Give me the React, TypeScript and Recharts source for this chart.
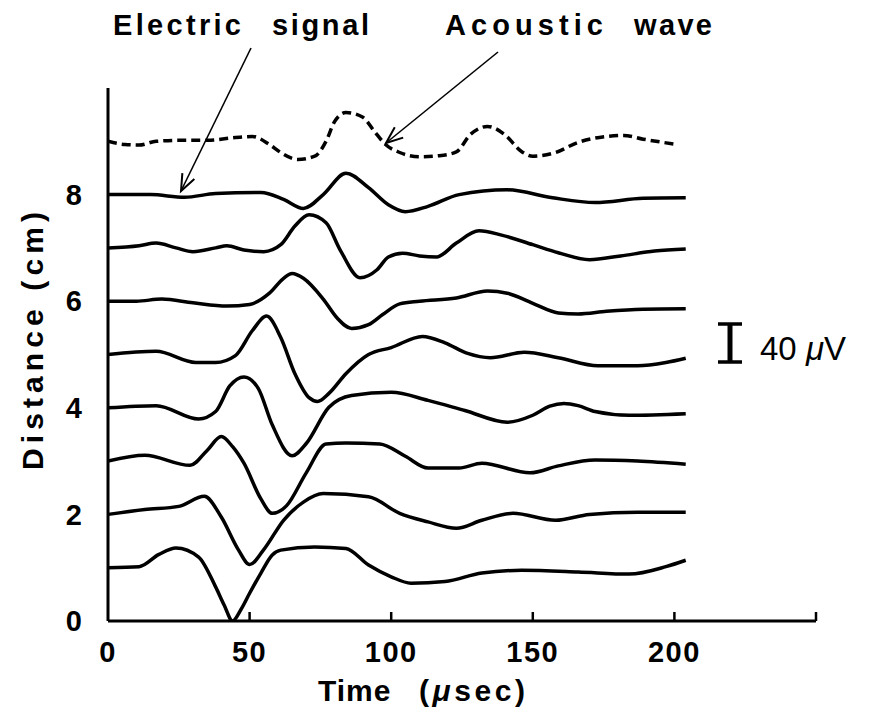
import React from 'react';
import { LineChart, Line, XAxis, YAxis } from 'recharts';

// ---------- axis ticks ----------
const xTicks = [0, 50, 100, 150, 200, 250];
const xTickLabels = ['0', '50', '100', '150', '200', ''];
const yTicks = [0, 2, 4, 6, 8];

// ---------- traces: time (µs) and deflection (cm of the distance axis) ----------
const trace1Time = [0, 11, 18, 24, 32, 38, 41, 44, 47, 50, 54, 58, 61, 73, 84, 92, 100, 107, 119, 132, 146, 166, 184, 197, 204];
const trace1Amp = [0, 0.02, 0.25, 0.37, 0.2, -0.36, -0.7, -1.0, -0.78, -0.48, -0.1, 0.24, 0.33, 0.39, 0.36, 0.05, -0.17, -0.29, -0.26, -0.1, -0.05, -0.08, -0.12, 0.02, 0.14];

const trace2Time = [0, 13, 25, 34, 40, 46, 50, 55, 62, 69, 76, 92, 103, 113, 123, 132, 143, 158, 170, 187, 204];
const trace2Amp = [0, 0.09, 0.15, 0.34, -0.05, -0.66, -0.94, -0.66, -0.11, 0.23, 0.39, 0.33, 0.02, -0.14, -0.26, -0.11, 0.02, -0.11, 0, 0.04, 0.04];

const trace3Time = [0, 13, 29, 35, 40, 44, 48, 54, 58, 63, 70, 77, 84, 96, 105, 113, 124, 132, 149, 159, 172, 187, 204];
const trace3Amp = [0, 0.11, -0.08, 0.2, 0.46, 0.27, -0.04, -0.71, -0.98, -0.84, -0.22, 0.32, 0.34, 0.32, 0.09, -0.13, -0.13, -0.04, -0.22, -0.09, 0.02, 0, -0.06];

const trace4Time = [0, 17, 32, 38, 43, 48, 53, 58, 65, 70, 78, 86, 100, 113, 126, 141, 150, 156, 161, 166, 172, 184, 204];
const trace4Amp = [0, 0.04, -0.21, -0.07, 0.41, 0.58, 0.37, -0.32, -0.9, -0.67, 0.01, 0.23, 0.29, 0.14, -0.05, -0.27, -0.14, 0.03, 0.08, 0.04, -0.07, -0.14, -0.11];

const trace5Time = [0, 17, 31, 38, 45, 51, 56, 61, 66, 71, 74, 78, 84, 92, 100, 111, 119, 127, 135, 147, 159, 173, 187, 197, 204];
const trace5Amp = [0, 0.06, -0.15, -0.15, -0.02, 0.45, 0.72, 0.32, -0.36, -0.81, -0.88, -0.73, -0.36, 0, 0.13, 0.34, 0.22, 0.02, -0.06, 0.04, -0.06, -0.21, -0.21, -0.15, -0.07];

const trace6Time = [0, 10, 19, 30, 42, 50, 57, 62, 65, 69, 76, 81, 86, 92, 97, 103, 110, 123, 134, 141, 150, 159, 166, 176, 189, 204];
const trace6Amp = [0, 0, 0.04, -0.03, -0.09, -0.06, 0.15, 0.43, 0.52, 0.43, 0.04, -0.32, -0.51, -0.44, -0.25, -0.05, 0, 0.06, 0.19, 0.15, -0.04, -0.22, -0.24, -0.19, -0.15, -0.14];

const trace7Time = [0, 11, 17, 24, 30, 38, 42, 48, 55, 61, 66, 71, 77, 82, 89, 95, 99, 104, 110, 116, 123, 131, 139, 150, 159, 170, 181, 193, 204];
const trace7Amp = [0, 0.04, 0.09, 0, -0.07, 0, 0.04, -0.04, -0.07, 0.06, 0.41, 0.62, 0.47, -0.04, -0.56, -0.41, -0.17, -0.1, -0.15, -0.17, 0.09, 0.32, 0.24, 0.06, -0.09, -0.22, -0.15, -0.06, -0.02];

const trace8Time = [0, 15, 27, 38, 54, 62, 69, 76, 84, 92, 99, 105, 113, 124, 141, 157, 172, 189, 204];
const trace8Amp = [0, 0, -0.05, 0.02, 0.04, -0.09, -0.26, 0, 0.4, 0.13, -0.19, -0.32, -0.22, 0, 0.09, -0.06, -0.15, -0.07, -0.06];

// acoustic wave (dashed), plotted at 9 cm
const acousticTime = [0, 6, 11, 17, 26, 35, 45, 51, 57, 61, 67, 73, 77, 80, 84, 90, 94, 98, 103, 110, 117, 123, 128, 134, 140, 146, 150, 158, 166, 176, 182, 189, 201];
const acousticAmp = [0, -0.06, -0.07, 0, 0.02, 0.02, 0.07, 0.09, -0.06, -0.21, -0.34, -0.28, 0, 0.37, 0.54, 0.45, 0.19, -0.06, -0.21, -0.29, -0.27, -0.2, 0.13, 0.28, 0.13, -0.19, -0.28, -0.21, -0.02, 0.09, 0.11, 0.04, -0.06];

const traces = [
  { id: 'd1', distance: 1, time: trace1Time, amp: trace1Amp, dashed: false },
  { id: 'd2', distance: 2, time: trace2Time, amp: trace2Amp, dashed: false },
  { id: 'd3', distance: 3, time: trace3Time, amp: trace3Amp, dashed: false },
  { id: 'd4', distance: 4, time: trace4Time, amp: trace4Amp, dashed: false },
  { id: 'd5', distance: 5, time: trace5Time, amp: trace5Amp, dashed: false },
  { id: 'd6', distance: 6, time: trace6Time, amp: trace6Amp, dashed: false },
  { id: 'd7', distance: 7, time: trace7Time, amp: trace7Amp, dashed: false },
  { id: 'd8', distance: 8, time: trace8Time, amp: trace8Amp, dashed: false },
  { id: 'acoustic', distance: 9, time: acousticTime, amp: acousticAmp, dashed: true },
];

const series = traces.map((tr) => ({
  ...tr,
  data: tr.time.map((t, i) => ({ t, v: tr.distance + tr.amp[i] })),
}));

const FONT = '"Liberation Sans", Arial, sans-serif';
const X_TICK_MARGIN = 14;

const XTick = (props: any) => {
  const { x, y, payload } = props;
  const axisY = y - X_TICK_MARGIN;
  const idx = xTicks.indexOf(payload.value);
  const label = idx >= 0 ? xTickLabels[idx] : '';
  return (
    <g>
      {payload.value !== 0 && (
        <line x1={x} x2={x} y1={axisY} y2={axisY - 9} stroke="#000" strokeWidth={2.5} />
      )}
      {label && (
        <text
          x={x}
          y={axisY + 41}
          textAnchor="middle"
          fill="#000"
          fontFamily={FONT}
          fontWeight="bold"
          fontSize={29}
          letterSpacing={1.5}
        >
          {label}
        </text>
      )}
    </g>
  );
};

const TimeLabel = () => (
  <g>
    <text x={318} y={701} fill="#000" fontFamily={FONT} fontWeight="bold" fontSize={30} letterSpacing={1}>
      Time
    </text>
    <text
      x={419}
      y={701}
      fill="#000"
      fontFamily={FONT}
      fontWeight="bold"
      fontSize={30}
      textLength={106}
      lengthAdjust="spacing"
    >
      (<tspan fontStyle="italic">μ</tspan>sec)
    </text>
  </g>
);

const DistanceLabel = () => (
  <text
    x={43}
    y={341}
    transform="rotate(-90 43 341)"
    textAnchor="middle"
    fill="#000"
    fontFamily={FONT}
    fontWeight="bold"
    fontSize={30}
    textLength={258}
    lengthAdjust="spacing"
  >
    Distance  (cm)
  </text>
);

function arrowHead(tipX: number, tipY: number, fromX: number, fromY: number, len = 18, spread = 0.38) {
  const ang = Math.atan2(fromY - tipY, fromX - tipX);
  const a1 = ang + spread;
  const a2 = ang - spread;
  return `M${tipX + len * Math.cos(a1)},${tipY + len * Math.sin(a1)} L${tipX},${tipY} L${tipX + len * Math.cos(a2)},${tipY + len * Math.sin(a2)}`;
}

const Annotations = () => {
  const e = { x1: 251, y1: 48, x2: 181, y2: 191 };
  const a = { x1: 498, y1: 52, x2: 386, y2: 143 };
  const wordStyle = { fill: '#000', fontFamily: FONT, fontSize: 29, fontWeight: 'bold' } as const;
  return (
    <svg
      width={870}
      height={719}
      style={{ position: 'absolute', left: 0, top: 0, pointerEvents: 'none' }}
    >
      <text x={113} y={35} {...wordStyle} textLength={128} lengthAdjust="spacing">Electric</text>
      <text x={272} y={35} {...wordStyle} textLength={97} lengthAdjust="spacing">signal</text>
      <text x={445} y={35} {...wordStyle} textLength={158} lengthAdjust="spacing">Acoustic</text>
      <text x={634} y={35} {...wordStyle} textLength={78} lengthAdjust="spacing">wave</text>

      <line x1={e.x1} y1={e.y1} x2={e.x2} y2={e.y2} stroke="#000" strokeWidth={1.6} />
      <path d={arrowHead(e.x2, e.y2, e.x1, e.y1)} fill="none" stroke="#000" strokeWidth={2} />
      <line x1={a.x1} y1={a.y1} x2={a.x2} y2={a.y2} stroke="#000" strokeWidth={1.6} />
      <path d={arrowHead(a.x2, a.y2, a.x1, a.y1)} fill="none" stroke="#000" strokeWidth={2} />

      {/* 40 µV scale bar */}
      <line x1={730} x2={730} y1={323} y2={363} stroke="#000" strokeWidth={5} />
      <line x1={718} x2={742} y1={324} y2={324} stroke="#000" strokeWidth={3.5} />
      <line x1={718} x2={742} y1={362} y2={362} stroke="#000" strokeWidth={3.5} />
      <text x={760} y={360} fill="#000" fontFamily={FONT} fontSize={33}>
        40 <tspan fontStyle="italic">μ</tspan>V
      </text>
    </svg>
  );
};

export default function App() {
  return (
    <div style={{ position: 'absolute', left: 0, top: 0, width: 870, height: 719, background: '#fff' }}>
      <LineChart width={870} height={719} margin={{ top: 88, right: 54, bottom: 38, left: 60 }}>
        <XAxis
          dataKey="t"
          type="number"
          domain={[0, 250]}
          ticks={xTicks}
          allowDataOverflow
          axisLine={{ stroke: '#000', strokeWidth: 3 }}
          tickLine={false}
          tickSize={0}
          tickMargin={X_TICK_MARGIN}
          tick={<XTick />}
          height={60}
          label={<TimeLabel />}
        />
        <YAxis
          type="number"
          domain={[0, 10]}
          ticks={yTicks}
          allowDataOverflow
          axisLine={{ stroke: '#000', strokeWidth: 3 }}
          tickLine={false}
          tickSize={0}
          tickMargin={26}
          width={48}
          tick={{ fill: '#000', fontSize: 29, fontFamily: FONT, fontWeight: 'bold' }}
          label={<DistanceLabel />}
        />
        {series.map((s) => (
          <Line
            key={s.id}
            data={s.data}
            dataKey="v"
            type="monotone"
            stroke="#000"
            strokeWidth={3.5}
            strokeDasharray={s.dashed ? '9 5' : undefined}
            dot={false}
            activeDot={false}
            isAnimationActive={false}
          />
        ))}
      </LineChart>
      <Annotations />
    </div>
  );
}
